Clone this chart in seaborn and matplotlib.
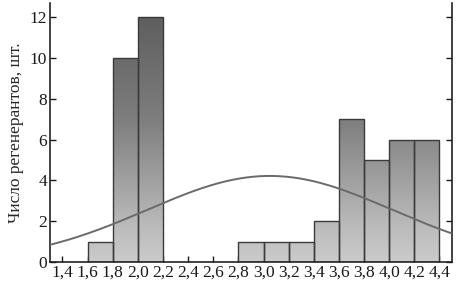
import numpy as np
import pandas as pd
import matplotlib
matplotlib.use("Agg")
import matplotlib.pyplot as plt
import seaborn as sns
from matplotlib.colors import LinearSegmentedColormap

# data
bin_centers = [1.7, 1.9, 2.1, 2.9, 3.1, 3.3, 3.5, 3.7, 3.9, 4.1, 4.3]
counts = [1, 10, 12, 1, 1, 1, 2, 7, 5, 6, 6]
bin_width = 0.2
x_ticks = [1.4, 1.6, 1.8, 2.0, 2.2, 2.4, 2.6, 2.8, 3.0, 3.2, 3.4, 3.6, 3.8, 4.0, 4.2, 4.4]
y_ticks = [0, 2, 4, 6, 8, 10, 12]
curve_mean = 3.05
curve_sd = 0.975
curve_peak = 4.22
ylabel = "Число регенерантов, шт."

sns.set_theme(style="white")
plt.rcParams['font.family'] = ['Liberation Serif', 'DejaVu Serif']

fig = plt.figure(figsize=(4.58, 2.84), dpi=100)
ax = fig.add_axes([0.109, 0.0775, 0.878, 0.912])

df = pd.DataFrame({"x": bin_centers, "w": counts})
edges = [round(1.4 + i * bin_width, 2) for i in range(16)]
sns.histplot(data=df, x="x", weights="w", bins=edges, ax=ax,
             color="#aaaaaa", edgecolor="#3a3a3a", linewidth=1.0, alpha=1)

cmap = LinearSegmentedColormap.from_list(
    "g", [(0.0, "#cbcbcb"), (0.12, "#bdbdbd"), (0.55, "#7e7e7e"), (1.0, "#5a5a5a")])
grad = np.linspace(0, 1, 256).reshape(-1, 1)
for p in list(ax.patches):
    h = p.get_height()
    if h <= 0:
        p.set_visible(False)
        continue
    p.set_facecolor("none")
    im = ax.imshow(grad, cmap=cmap, vmin=0, vmax=1, origin="lower",
                   extent=[1.3, 4.5, 0, 12.7], aspect="auto", zorder=p.get_zorder() - 0.1,
                   interpolation="bilinear")
    im.set_clip_path(p)
ax.set_xlim(1.3, 4.5)
ax.set_ylim(0, 12.7)

xs = np.linspace(1.3, 4.5, 300)
ys = curve_peak * np.exp(-(xs - curve_mean) ** 2 / (2 * curve_sd ** 2))
sns.lineplot(x=xs, y=ys, ax=ax, color="#6a6a6a", linewidth=1.4, zorder=5)

ax.set_xticks(x_ticks)
ax.set_xticklabels([f"{t:.1f}".replace(".", ",") for t in x_ticks])
ax.set_yticks(y_ticks)
ax.set_yticklabels([str(t) for t in y_ticks])
ax.set_xlabel("")
ax.set_ylabel(ylabel, fontsize=12.5, labelpad=4)
ax.tick_params(axis="both", direction="in", length=4, width=1, colors="#1a1a1a",
               labelsize=12.5, pad=2, right=True, left=True, bottom=True)
for s in ["left", "bottom", "right"]:
    ax.spines[s].set_visible(True)
    ax.spines[s].set_color("#222222")
    ax.spines[s].set_linewidth(1.2)
ax.spines["top"].set_visible(False)
ax.grid(False)

fig.savefig("out.png", dpi=100)
